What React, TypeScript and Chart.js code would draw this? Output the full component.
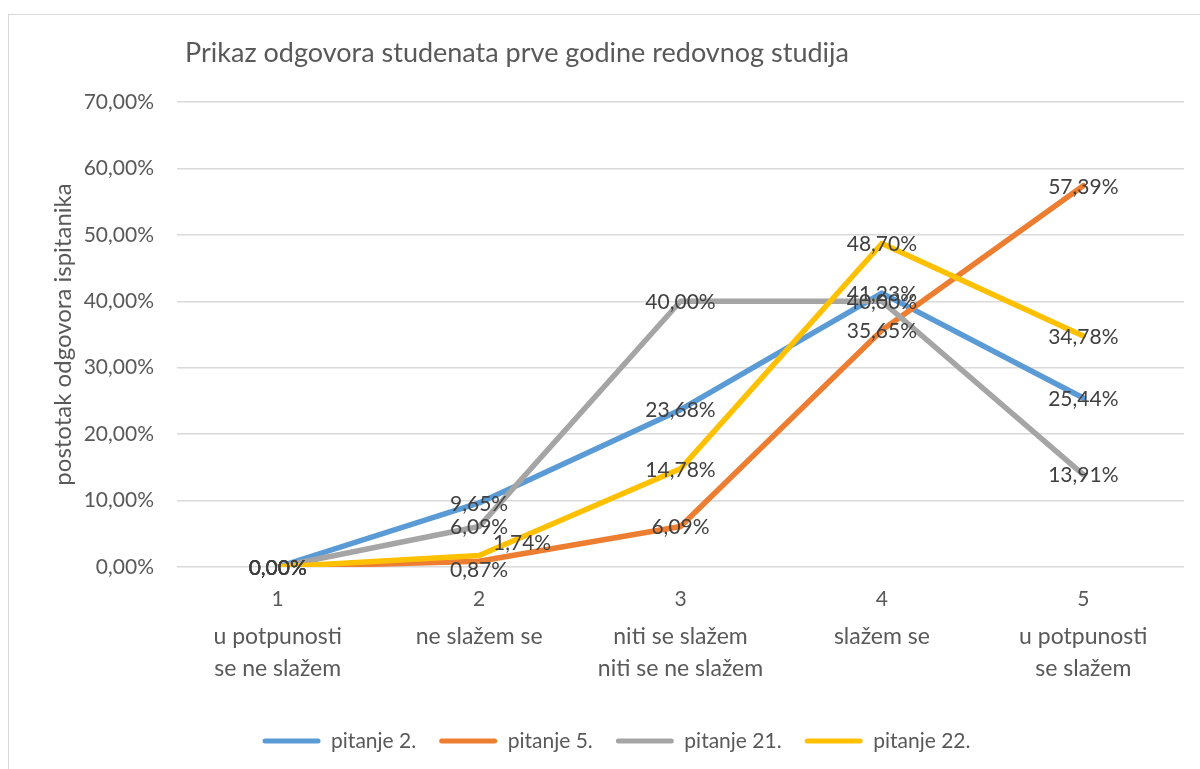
import { useEffect, useRef } from "react";
import { Chart, registerables } from "chart.js";

Chart.register(...registerables);

const chartTitle = "Prikaz odgovora studenata prve godine redovnog studija";
const yAxisTitle = "postotak odgovora ispitanika";
const categories = ["1", "2", "3", "4", "5"];
const categoryTexts = [
  ["u potpunosti", "se ne slažem"],
  ["ne slažem se"],
  ["niti se slažem", "niti se ne slažem"],
  ["slažem se"],
  ["u potpunosti", "se slažem"],
];
const seriesNames = ["pitanje 2.", "pitanje 5.", "pitanje 21.", "pitanje 22."];
const pitanje2 = [0, 9.65, 23.68, 41.23, 25.44];
const pitanje5 = [0, 0.87, 6.09, 35.65, 57.39];
const pitanje21 = [0, 6.09, 40.0, 40.0, 13.91];
const pitanje22 = [0, 1.74, 14.78, 48.7, 34.78];
const yMin = 0;
const yMax = 70;
const yStep = 10;

// styles
const seriesColors = ["#5B9BD5", "#ED7D31", "#A5A5A5", "#FFC000"];
const labelShift: Record<string, [number, number]> = {
  "3-1": [43, -13],
  "1-1": [0, 8],
};
const FONT = "Lato";
const TEXT = "#595959";
const LABEL_TEXT = "#404040";

const fmt = (v: number) => v.toFixed(2).replace(".", ",") + "%";

const titlePlugin = {
  id: "manualTitle",
  afterDraw(chart: any) {
    const ctx = chart.ctx;
    ctx.save();
    ctx.font = `27px ${FONT}`;
    ctx.fillStyle = TEXT;
    ctx.textAlign = "left";
    ctx.textBaseline = "middle";
    ctx.fillText(chartTitle, 185, 53);
    ctx.restore();
  },
};

const dataLabelPlugin = {
  id: "pointLabels",
  afterDatasetsDraw(chart: any) {
    const ctx = chart.ctx;
    ctx.save();
    ctx.font = `21px ${FONT}`;
    ctx.fillStyle = LABEL_TEXT;
    ctx.textAlign = "center";
    ctx.textBaseline = "middle";
    chart.data.datasets.forEach((ds: any, i: number) => {
      const meta = chart.getDatasetMeta(i);
      meta.data.forEach((pt: any, j: number) => {
        const [dx, dy] = labelShift[`${i}-${j}`] || [0, 0];
        ctx.fillText(fmt(ds.data[j]), pt.x + dx, pt.y + dy + 1);
      });
    });
    ctx.restore();
  },
};

export default function App() {
  const ref = useRef<HTMLCanvasElement>(null);

  useEffect(() => {
    Chart.defaults.font.family = FONT;
    const seriesValues = [pitanje2, pitanje5, pitanje21, pitanje22];
    const defaultGen = (Chart.defaults as any).plugins.legend.labels.generateLabels;
    const chart = new Chart(ref.current!, {
      type: "line",
      data: {
        labels: categories,
        datasets: seriesValues.map((vals, i) => ({
          label: seriesNames[i],
          data: vals,
          borderColor: seriesColors[i],
          backgroundColor: seriesColors[i],
          borderWidth: 5.5,
          pointRadius: 0,
          pointHoverRadius: 0,
          tension: 0,
          borderCapStyle: "round" as const,
          borderJoinStyle: "round" as const,
          order: seriesValues.length - i,
        })),
      },
      options: {
        responsive: false,
        animation: false,
        layout: { padding: { left: 49, right: 16, top: 102, bottom: 7.5 } },
        scales: {
          y: {
            min: yMin,
            max: yMax,
            ticks: {
              stepSize: yStep,
              padding: 23,
              color: TEXT,
              font: { size: 21 },
              callback: (v: any) => fmt(Number(v)),
            },
            grid: { color: "#D9D9D9", lineWidth: 1.5, drawTicks: false },
            border: { display: false },
            title: {
              display: true,
              text: yAxisTitle,
              color: TEXT,
              font: { size: 24 },
              padding: 0,
            },
            afterFit: (s: any) => {
              s.width = 128;
            },
          },
          x: {
            type: "category",
            offset: true,
            weight: 0,
            grid: { display: false, drawTicks: false },
            border: { display: false },
            ticks: { padding: 20, color: TEXT, font: { size: 21 } },
            afterFit: (s: any) => {
              s.height = 44;
            },
          },
          x2: {
            type: "category",
            position: "bottom",
            labels: categoryTexts as any,
            offset: true,
            weight: 1,
            grid: { display: false, drawTicks: false },
            border: { display: false },
            ticks: {
              padding: 10,
              color: TEXT,
              font: { size: 23, lineHeight: 1.39 },
            },
            afterFit: (s: any) => {
              s.height = 96.5;
            },
          },
        } as any,
        plugins: {
          title: { display: false },
          tooltip: { enabled: false },
          legend: {
            position: "bottom",
            labels: {
              boxWidth: 58,
              boxHeight: 5,
              useBorderRadius: true,
              borderRadius: 2.5,
              padding: 23,
              color: TEXT,
              font: { size: 21 },
              generateLabels: (c: any) =>
                defaultGen(c).map((l: any) => ({
                  ...l,
                  fillStyle: seriesColors[l.datasetIndex],
                  strokeStyle: seriesColors[l.datasetIndex],
                  lineWidth: 0,
                })),
              sort: (a: any, b: any) => a.datasetIndex - b.datasetIndex,
            },
          },
        },
      },
      plugins: [dataLabelPlugin, titlePlugin],
    });
    return () => chart.destroy();
  }, []);

  return (
    <div
      style={{
        position: "fixed",
        left: 0,
        top: 0,
        width: 1200,
        height: 769,
        overflow: "hidden",
        background: "#fff",
      }}
    >
      <div
        style={{
          position: "absolute",
          left: 8,
          top: 14,
          width: 1400,
          height: 1000,
          border: "1.5px solid #D9D9D9",
          boxSizing: "border-box",
        }}
      />
      <canvas
        ref={ref}
        width={1200}
        height={769}
        style={{ position: "absolute", left: 0, top: 0, width: 1200, height: 769 }}
      />
    </div>
  );
}
